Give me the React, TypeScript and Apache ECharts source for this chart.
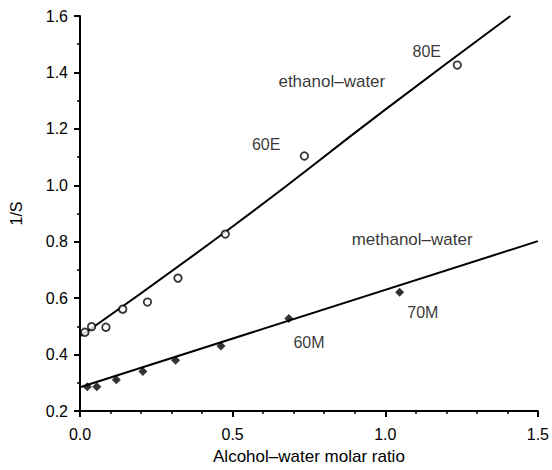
import React, { useEffect, useRef } from "react";
import * as echarts from "echarts";

// ethanol–water (open circles)
const ethanolX = [0.016, 0.038, 0.085, 0.14, 0.221, 0.321, 0.476, 0.735, 1.236];
const ethanolY = [0.479, 0.499, 0.497, 0.561, 0.586, 0.671, 0.827, 1.104, 1.426];
// fitted ethanol line
const ethanolFitX = [0, 0.5, 1.0, 1.41];
const ethanolFitY = [0.464, 0.854, 1.268, 1.6];

// methanol–water (filled diamonds)
const methanolX = [0.024, 0.055, 0.119, 0.206, 0.313, 0.462, 0.684, 1.047];
const methanolY = [0.286, 0.286, 0.311, 0.34, 0.38, 0.43, 0.528, 0.621];
// fitted methanol line
const methanolFitX = [0, 1.5];
const methanolFitY = [0.284, 0.802];

// annotations (data coordinates)
const noteTexts = ["ethanol–water", "80E", "60E", "methanol–water", "60M", "70M"];
const noteX = [0.825, 1.136, 0.61, 1.088, 0.75, 1.123];
const noteY = [1.369, 1.474, 1.145, 0.809, 0.442, 0.549];
const noteSize = [17, 16, 16, 17, 16, 16];

const xTicks = [0, 0.5, 1.0, 1.5];
const yTicks = [0.2, 0.4, 0.6, 0.8, 1.0, 1.2, 1.4, 1.6];

const zip = (a: number[], b: number[]) => a.map((v, i) => [v, b[i]]);

export default function App() {
  const ref = useRef<HTMLDivElement>(null);
  useEffect(() => {
    document.body.style.margin = "0";
    if (!ref.current) return;
    const chart = echarts.init(ref.current, undefined, { renderer: "svg" });
    const font = "'Liberation Sans', Arial, sans-serif";
    chart.setOption({
      animation: false,
      backgroundColor: "#ffffff",
      textStyle: { fontFamily: font, color: "#000" },
      grid: { left: 80, right: 9, top: 16, bottom: 54 },
      xAxis: {
        type: "value",
        min: xTicks[0],
        max: xTicks[xTicks.length - 1],
        interval: 0.5,
        name: "Alcohol–water molar ratio",
        nameLocation: "middle",
        nameGap: 37,
        nameTextStyle: { fontSize: 17, color: "#000", fontFamily: font },
        axisLine: { lineStyle: { color: "#000", width: 2 } },
        axisTick: { show: true, inside: false, length: 6, lineStyle: { color: "#000", width: 2 } },
        minorTick: { show: true, splitNumber: 5, length: 3, lineStyle: { color: "#000", width: 1.5 } },
        splitLine: { show: false },
        axisLabel: {
          fontSize: 16,
          color: "#000",
          fontFamily: font,
          margin: 15,
          formatter: (v: number) => v.toFixed(1),
        },
      },
      yAxis: {
        type: "value",
        min: yTicks[0],
        max: yTicks[yTicks.length - 1],
        interval: 0.2,
        name: "1/S",
        nameLocation: "middle",
        nameGap: 56,
        nameRotate: 90,
        nameTextStyle: { fontSize: 16, color: "#000", fontFamily: font },
        axisLine: { show: true, lineStyle: { color: "#000", width: 2 } },
        axisTick: { show: true, inside: false, length: 6, lineStyle: { color: "#000", width: 2 } },
        minorTick: { show: true, splitNumber: 2, length: 3, lineStyle: { color: "#000", width: 1.5 } },
        splitLine: { show: false },
        axisLabel: {
          fontSize: 16,
          color: "#000",
          fontFamily: font,
          margin: 12,
          formatter: (v: number) => v.toFixed(1),
        },
      },
      series: [
        {
          type: "line",
          data: zip(ethanolFitX, ethanolFitY),
          smooth: true,
          symbol: "none",
          lineStyle: { color: "#000", width: 2 },
          z: 2,
        },
        {
          type: "line",
          data: zip(methanolFitX, methanolFitY),
          symbol: "none",
          lineStyle: { color: "#000", width: 2 },
          z: 2,
        },
        {
          type: "scatter",
          data: zip(ethanolX, ethanolY),
          symbol: "circle",
          symbolSize: 7.5,
          itemStyle: { color: "#fff", borderColor: "#000", borderWidth: 1.8 },
          z: 3,
        },
        {
          type: "scatter",
          data: zip(methanolX, methanolY),
          symbol: "diamond",
          symbolSize: [9, 9],
          itemStyle: { color: "#000" },
          z: 3,
        },
        {
          type: "scatter",
          data: noteTexts.map((t, i) => ({
            value: [noteX[i], noteY[i]],
            name: t,
            label: { fontSize: noteSize[i] },
          })),
          symbolSize: 0,
          silent: true,
          label: {
            show: true,
            position: "inside",
            formatter: (p: any) => p.name,
            color: "#000",
            fontFamily: font,
          },
          z: 4,
        },
      ],
    });
    return () => chart.dispose();
  }, []);
  return <div ref={ref} style={{ width: 552, height: 470 }} />;
}
